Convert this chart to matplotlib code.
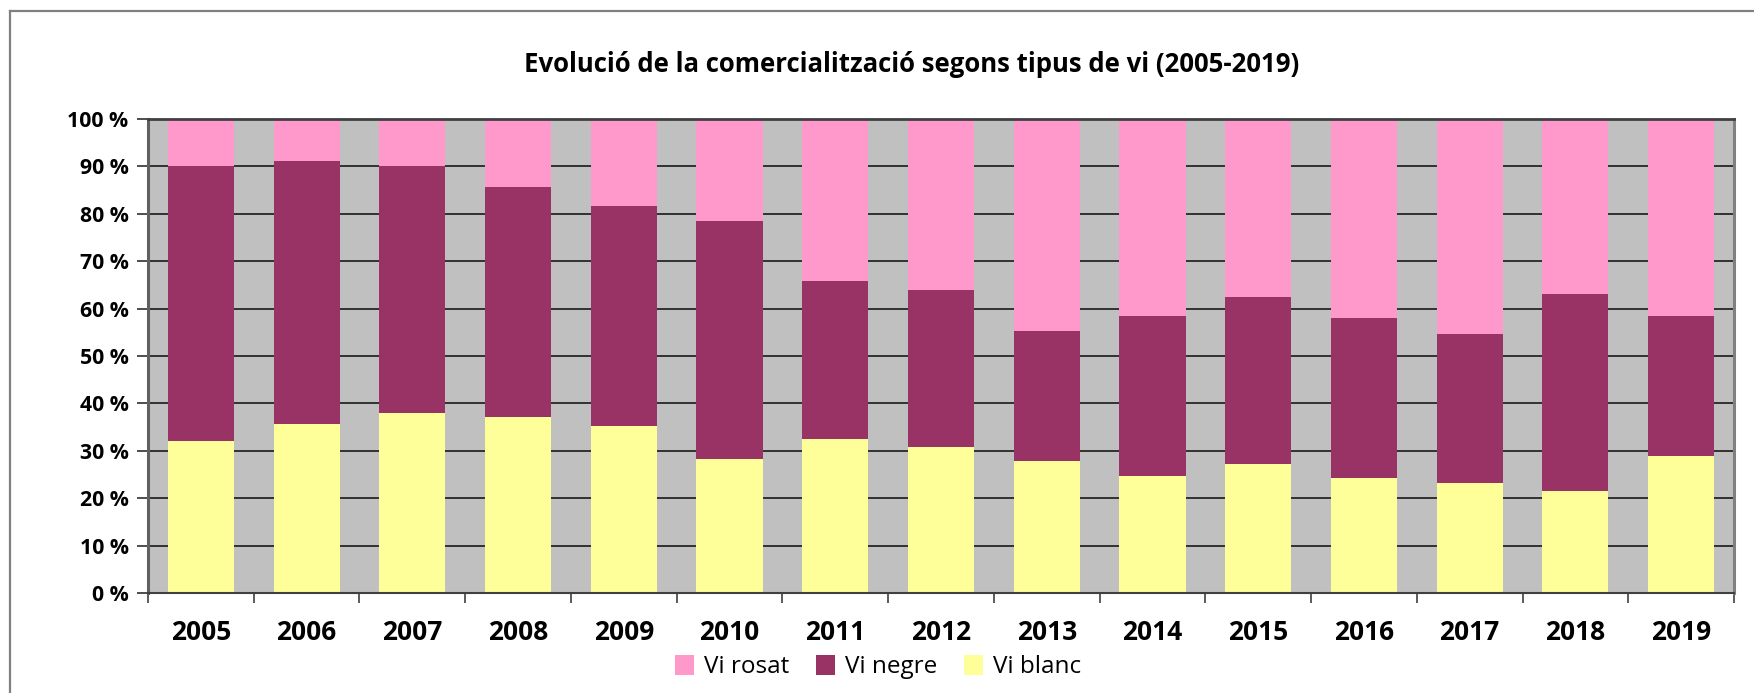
import matplotlib
matplotlib.use("Agg")
import matplotlib.pyplot as plt
from matplotlib.patches import Patch
from matplotlib.lines import Line2D
from matplotlib import font_manager
import numpy as np

years = ["2005", "2006", "2007", "2008", "2009", "2010", "2011", "2012",
         "2013", "2014", "2015", "2016", "2017", "2018", "2019"]
vi_blanc = [32.0, 35.6, 37.9, 37.1, 35.2, 28.2, 32.4, 30.7, 27.8, 24.6, 27.3, 24.2, 23.3, 21.6, 29.0]
vi_negre = [58.1, 55.5, 52.2, 48.5, 46.4, 50.3, 33.4, 33.2, 27.4, 33.8, 35.1, 33.8, 31.3, 41.4, 29.4]
vi_rosat = [9.9, 8.9, 9.9, 14.4, 18.4, 21.5, 34.2, 36.1, 44.8, 41.6, 37.6, 42.0, 45.4, 37.0, 41.6]
y_ticks = [0, 10, 20, 30, 40, 50, 60, 70, 80, 90, 100]
title = "Evolució de la comercialització segons tipus de vi (2005-2019)"

# pick a family that has a real bold face
fam = 'DejaVu Sans'
for cand in ['Open Sans', 'Noto Sans', 'Lato', 'Roboto']:
    try:
        p = font_manager.findfont(font_manager.FontProperties(family=cand, weight='bold'),
                                  fallback_to_default=False)
        if 'bold' in p.lower():
            fam = cand
            break
    except Exception:
        pass
plt.rcParams['font.family'] = [fam, 'DejaVu Sans']

W, H = 1754, 693
fig = plt.figure(figsize=(W / 100, H / 100), dpi=100)
fig.patch.set_facecolor('white')

left, right, top, bottom = 148, 1734, 119, 593
ax = fig.add_axes([left / W, 1 - bottom / H, (right - left) / W, (bottom - top) / H])
ax.set_facecolor('#C0C0C0')

x = np.arange(len(years))
blanc = np.array(vi_blanc)
negre = np.array(vi_negre)
rosat = np.array(vi_rosat)
tot = blanc + negre + rosat
pb = blanc / tot * 100
pn = negre / tot * 100
pr = rosat / tot * 100

bw = 0.625
ax.bar(x, pb, width=bw, color='#FFFF99', zorder=3)
ax.bar(x, pn, width=bw, bottom=pb, color='#993366', zorder=3)
ax.bar(x, pr, width=bw, bottom=pb + pn, color='#FF99CC', zorder=3)

ax.set_xlim(-0.5, len(years) - 0.5)
ax.set_ylim(0, 100)
ax.set_yticks(y_ticks)
ax.set_yticklabels([f"{v} %" for v in y_ticks], fontsize=15.3, fontweight='bold')
ax.yaxis.grid(True, color='#1a1a1a', linewidth=1.2, zorder=1)
ax.set_axisbelow(True)
ax.tick_params(axis='y', direction='out', length=8, width=1.2, color='#303030', pad=6)

ax.set_xticks(x)
ax.set_xticklabels(years, fontsize=19, fontweight='bold')
ax.set_xticks(np.arange(-0.5, len(years), 1.0), minor=True)
ax.tick_params(axis='x', which='major', length=0, pad=19)
ax.tick_params(axis='x', which='minor', direction='out', length=7.5, width=1.2, color='#404040')

ax.spines['top'].set_color('#404040')
ax.spines['top'].set_linewidth(2)
ax.spines['bottom'].set_color('#404040')
ax.spines['bottom'].set_linewidth(1.5)
ax.spines['left'].set_color('#606060')
ax.spines['left'].set_linewidth(2.2)
ax.spines['right'].set_color('#808080')
ax.spines['right'].set_linewidth(2.2)
for s in ax.spines.values():
    s.set_zorder(4)

fig.text(912 / W, 1 - 65 / H, title, ha='center', va='center',
         fontsize=18.5, fontweight='bold')

handles = [Patch(facecolor='#FF99CC', edgecolor='none', label='Vi rosat'),
           Patch(facecolor='#993366', edgecolor='none', label='Vi negre'),
           Patch(facecolor='#FFFF99', edgecolor='none', label='Vi blanc')]
fig.legend(handles=handles, loc='center', bbox_to_anchor=(878 / W, 1 - 667 / H),
           ncol=3, frameon=False, fontsize=17.5, handlelength=0.8, handleheight=0.9,
           handletextpad=0.4, columnspacing=1.1)

# outer chart frame (left and top edges visible)
fig.add_artist(Line2D([10 / W, 10 / W], [0, 1 - 10.5 / H], transform=fig.transFigure,
                      color='#808080', linewidth=1.6))
fig.add_artist(Line2D([10 / W, 1], [1 - 10.5 / H, 1 - 10.5 / H], transform=fig.transFigure,
                      color='#808080', linewidth=1.6))

fig.savefig("out.png", dpi=100)
